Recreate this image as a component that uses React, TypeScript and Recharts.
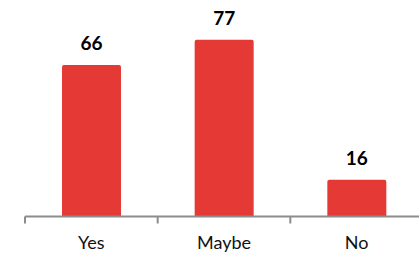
import { BarChart, Bar, XAxis, YAxis, LabelList } from "recharts";

const categories = ["Yes", "Maybe", "No"];
const values = [66, 77, 16];

const data = categories.map((name, i) => ({ name, value: values[i] }));

const TICK_SIZE = 6;
const TICK_MARGIN = 14;
const AXIS_GRAY = "#8c8c8c";

// category label plus the boundary tick marks (ticks sit between categories)
function CategoryTick(props: any) {
  const { x, y, payload, index, visibleTicksCount } = props;
  const half = payload.offset || 0;
  const axisY = y - TICK_SIZE - TICK_MARGIN;
  const isLast = index === visibleTicksCount - 1;
  return (
    <g>
      <line x1={x - half} y1={axisY} x2={x - half} y2={axisY + 7} stroke={AXIS_GRAY} strokeWidth={2} />
      {isLast && (
        <line x1={x + half} y1={axisY} x2={x + half} y2={axisY + 7} stroke={AXIS_GRAY} strokeWidth={2} />
      )}
      <text x={x} y={y} dy="0.71em" textAnchor="middle" fontFamily="Lato" fontSize={18} fill="#111">
        {payload.value}
      </text>
    </g>
  );
}

export default function App() {
  return (
    <div style={{ position: "absolute", left: 0, top: 0, width: 419, height: 255, overflow: "hidden", background: "#fff" }}>
      <BarChart
        width={423}
        height={255}
        data={data}
        margin={{ top: 10, right: 0, left: 25, bottom: 0 }}
      >
        <XAxis
          dataKey="name"
          height={38.5}
          tickSize={TICK_SIZE}
          tickMargin={TICK_MARGIN}
          tickLine={false}
          interval={0}
          axisLine={{ stroke: AXIS_GRAY, strokeWidth: 2 }}
          tick={<CategoryTick />}
        />
        <YAxis hide domain={[0, 90]} />
        <Bar
          dataKey="value"
          fill="#e53935"
          barSize={59}
          radius={[2, 2, 0, 0]}
          isAnimationActive={false}
        >
          <LabelList
            dataKey="value"
            position="top"
            offset={15}
            style={{ fontFamily: "Lato", fontWeight: 700, fontSize: 19, fill: "#000" }}
          />
        </Bar>
      </BarChart>
    </div>
  );
}
